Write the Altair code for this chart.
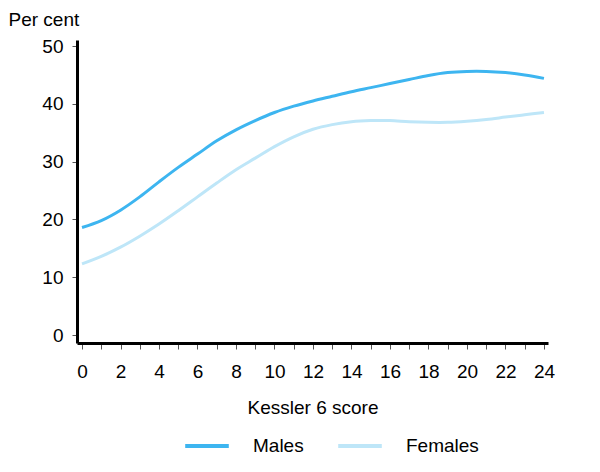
import altair as alt
import pandas as pd

scores = list(range(25))
males = [18.6, 19.8, 21.6, 23.9, 26.5, 29.0, 31.3, 33.6, 35.5, 37.1, 38.5, 39.6, 40.5,
         41.3, 42.1, 42.8, 43.5, 44.2, 44.9, 45.4, 45.6, 45.6, 45.4, 45.0, 44.4]
females = [12.3, 13.6, 15.2, 17.1, 19.2, 21.5, 23.9, 26.3, 28.6, 30.6, 32.6, 34.3, 35.6,
           36.4, 36.9, 37.1, 37.1, 36.9, 36.8, 36.8, 37.0, 37.3, 37.7, 38.1, 38.5]
series = ["Males", "Females"]
colors = ["#3DB5F0", "#BEE6F8"]

rows = []
for s, vals in zip(series, [males, females]):
    for x, v in zip(scores, vals):
        rows.append({"score": x, "value": v, "series": s})
df = pd.DataFrame(rows)

FONT = "Liberation Sans, Arial, Helvetica, sans-serif"

chart = alt.Chart(df).mark_line(strokeWidth=3, interpolate="catmull-rom").encode(
    x=alt.X("score:Q",
            scale=alt.Scale(domain=[-0.26, 24.21], nice=False, zero=False),
            axis=alt.Axis(title="Kessler 6 score", values=scores, grid=False,
                          labelExpr="datum.value % 2 == 0 ? datum.label : ''",
                          domainColor="black", domainWidth=3,
                          tickColor="#555555", tickSize=6, tickWidth=1,
                          labelFontSize=19, labelColor="black", labelPadding=13,
                          titleFontSize=19, titleFontWeight="normal", titleColor="black",
                          titlePadding=17)),
    y=alt.Y("value:Q",
            scale=alt.Scale(domain=[-1.38, 51.04], nice=False, zero=False),
            axis=alt.Axis(title="Per cent", values=[0, 10, 20, 30, 40, 50], grid=False,
                          domainColor="black", domainWidth=3,
                          tickColor="#555555", tickSize=5, tickWidth=1,
                          labelFontSize=19, labelColor="black", labelPadding=9,
                          titleAngle=0, titleAlign="left", titleBaseline="alphabetic",
                          titleX=-69, titleY=-15,
                          titleFontSize=19, titleFontWeight="normal", titleColor="black")),
    color=alt.Color("series:N", sort=series,
                    scale=alt.Scale(domain=series, range=colors),
                    legend=alt.Legend(title=None, orient="none", direction="horizontal",
                                      legendX=106, legendY=382,
                                      symbolType="stroke", symbolStrokeWidth=4,
                                      symbolSize=1900, labelFontSize=19, labelColor="black",
                                      labelOffset=22, columnPadding=26)),
).properties(
    width=471, height=303,
    padding={"left": 69, "top": 32, "right": 44, "bottom": 121},
    autosize=alt.AutoSizeParams(type="none"),
).configure(font=FONT).configure_view(stroke=None)

chart.save("out.html", embed_options={"renderer": "svg", "actions": False})
